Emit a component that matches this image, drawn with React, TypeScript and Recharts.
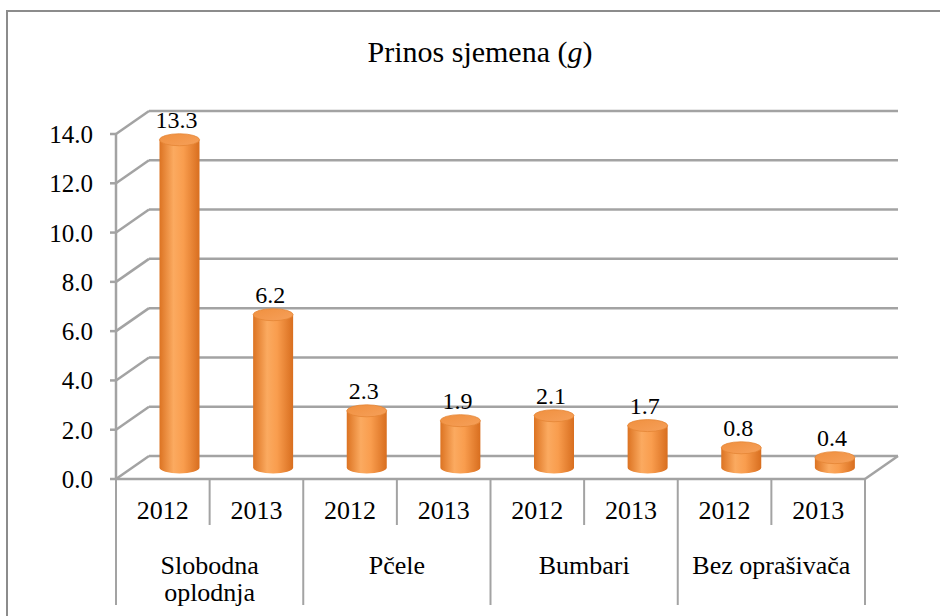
import React from 'react';
import { BarChart, Bar, XAxis, YAxis, CartesianGrid, LabelList } from 'recharts';

const years = ['2012', '2013', '2012', '2013', '2012', '2013', '2012', '2013'];
const groups = ['Slobodna oplodnja', 'Slobodna oplodnja', 'Pčele', 'Pčele', 'Bumbari', 'Bumbari', 'Bez oprašivača', 'Bez oprašivača'];
const yields = [13.3, 6.2, 2.3, 1.9, 2.1, 1.7, 0.8, 0.4];
const yTicks = [0, 2, 4, 6, 8, 10, 12, 14];

const chartData = years.map((year, i) => ({ year, group: groups[i], value: yields[i] }));

const W = 940;
const H = 616;
const MARGIN = { top: 134, right: 75, bottom: 11, left: 36 };
const Y_AXIS_W = 80;
const PLOT_W = W - MARGIN.left - MARGIN.right - Y_AXIS_W;
const BAND = PLOT_W / years.length;
const DX = 33;
const DY = 23;
const GRID = '#a3a3a3';
const FONT = '"Liberation Serif", "Times New Roman", serif';

const wrapWords = (text: string, maxW: number, size: number) => {
  // rough width estimate for a serif font
  const est = (s: string) => s.length * 0.45 * size;
  if (est(text) <= maxW) return [text];
  return text.split(' ');
};

const GridLine = (p: any) => {
  const { x1, y1, x2 } = p;
  return (
    <g key={`grid-${y1}`}>
      <line x1={x1} y1={y1} x2={x1 + DX} y2={y1 - DY} stroke={GRID} strokeWidth={2.5} />
      <line x1={x1 + DX} y1={y1 - DY} x2={x2 + DX} y2={y1 - DY} stroke={GRID} strokeWidth={2.5} />
    </g>
  );
};

const YTick = (p: any) => (
  <text x={p.x - 15} y={p.y + 9} textAnchor="end" fontFamily={FONT} fontSize={25} fill="#000">
    {Number(p.payload.value).toFixed(1)}
  </text>
);

const XTick = (p: any) => {
  const { x, y, index, payload } = p;
  const right = x + BAND / 2;
  const left = x - BAND / 2;
  const even = index % 2 === 0;
  const lines = even ? wrapWords(groups[index], BAND * 2 - 14, 26) : [];
  return (
    <g>
      <text x={x} y={y + 40} textAnchor="middle" fontFamily={FONT} fontSize={26} fill="#000">
        {payload.value}
      </text>
      {index === 0 && <line x1={left} y1={y} x2={left} y2={y + 126} stroke={GRID} strokeWidth={2} />}
      {even ? (
        <line x1={right} y1={y} x2={right} y2={y + 46} stroke={GRID} strokeWidth={2} />
      ) : (
        <line x1={right} y1={y} x2={right} y2={y + 126} stroke={GRID} strokeWidth={2} />
      )}
      {index === years.length - 1 && (
        <line x1={right} y1={y} x2={right + DX} y2={y - DY} stroke={GRID} strokeWidth={2.5} />
      )}
      {even && lines.map((l, i) => (
        <text key={i} x={right} y={y + 95 + i * 27} textAnchor="middle" fontFamily={FONT} fontSize={26} fill="#000">
          {l}
        </text>
      ))}
    </g>
  );
};

const Cylinder = (p: any) => {
  const { x, y, width, height } = p;
  const rx = width / 2;
  const ry = 6;
  const cx = x + rx + DX / 2;
  const top = y - DY / 2;
  const base = y + height - DY / 2;
  return (
    <g>
      <path
        d={`M${cx - rx},${top} L${cx - rx},${base} A${rx},${ry} 0 0 0 ${cx + rx},${base} L${cx + rx},${top} Z`}
        fill="url(#cylBody)"
      />
      <ellipse cx={cx} cy={top} rx={rx} ry={ry} fill="url(#cylTop)" stroke="#e58535" strokeWidth={0.8} />
    </g>
  );
};

const ValueLabel = (p: any) => {
  const { x, y, width, value } = p;
  const cx = x + width / 2 + DX / 2 - 3;
  const top = y - DY / 2;
  return (
    <text x={cx} y={top - 12} textAnchor="middle" fontFamily={FONT} fontSize={24} fill="#000">
      {Number(value).toFixed(1)}
    </text>
  );
};

export default function App() {
  return (
    <div style={{ position: 'absolute', left: 0, top: 0, width: W, height: H, overflow: 'hidden', background: '#fff', fontFamily: FONT }}>
      <div style={{ position: 'absolute', left: 6, top: 10, width: 1000, height: 700, border: '2px solid #8c8c8c' }} />
      <svg width={W} height={H} style={{ position: 'absolute', left: 0, top: 0 }}>
        <text x={480} y={62} textAnchor="middle" fontFamily={FONT} fontSize={30} fill="#000">
          Prinos sjemena (<tspan fontStyle="italic">g</tspan>)
        </text>
      </svg>
      <div style={{ position: 'absolute', left: 0, top: 0 }}>
        <BarChart width={W} height={H} data={chartData} margin={MARGIN}>
          <defs>
            <linearGradient id="cylBody" x1="0" y1="0" x2="1" y2="0">
              <stop offset="0%" stopColor="#dc7322" />
              <stop offset="35%" stopColor="#fbaa60" />
              <stop offset="60%" stopColor="#f99d4e" />
              <stop offset="100%" stopColor="#d86e1f" />
            </linearGradient>
            <linearGradient id="cylTop" x1="0" y1="0" x2="1" y2="1">
              <stop offset="0%" stopColor="#f0903f" />
              <stop offset="100%" stopColor="#f6a05a" />
            </linearGradient>
          </defs>
          <CartesianGrid vertical={false} horizontal={GridLine} />
          <XAxis
            dataKey="year"
            interval={0}
            height={126}
            tickLine={false}
            tickSize={0}
            tickMargin={0}
            axisLine={{ stroke: GRID, strokeWidth: 2.5 }}
            tick={XTick}
          />
          <YAxis
            type="number"
            domain={[0, 14]}
            ticks={yTicks}
            width={Y_AXIS_W}
            tickSize={6}
            axisLine={{ stroke: GRID, strokeWidth: 2.5 }}
            tickLine={{ stroke: GRID, strokeWidth: 2.5 }}
            tick={YTick}
          />
          <Bar dataKey="value" barSize={40} shape={Cylinder} isAnimationActive={false}>
            <LabelList dataKey="value" content={ValueLabel} />
          </Bar>
        </BarChart>
      </div>
    </div>
  );
}
